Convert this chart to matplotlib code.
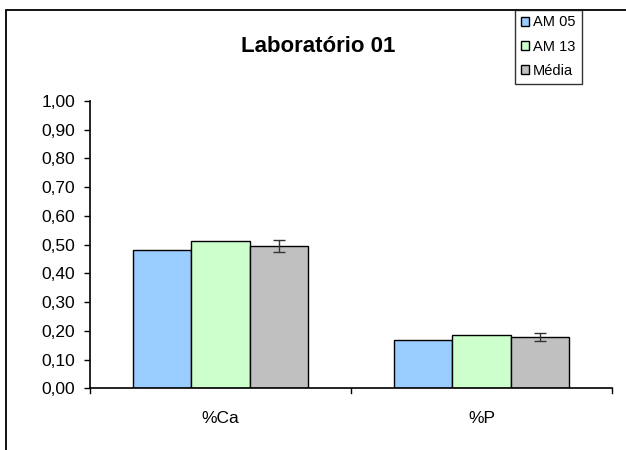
import matplotlib
matplotlib.use("Agg")
import matplotlib.pyplot as plt
import numpy as np
from matplotlib.patches import Rectangle

plt.rcParams['font.family'] = ['Liberation Sans', 'DejaVu Sans']

categories = ["%Ca", "%P"]
series_names = ["AM 05", "AM 13", "Média"]
am05 = [0.482, 0.168]
am13 = [0.512, 0.187]
media = [0.495, 0.179]
media_err = [0.020, 0.013]
colors = ["#99CCFF", "#CCFFCC", "#C0C0C0"]
yticks = [0.0, 0.1, 0.2, 0.3, 0.4, 0.5, 0.6, 0.7, 0.8, 0.9, 1.0]
ytick_labels = ["0,00", "0,10", "0,20", "0,30", "0,40", "0,50", "0,60", "0,70", "0,80", "0,90", "1,00"]

W, H = 626, 450
fig = plt.figure(figsize=(W / 100, H / 100), dpi=100)
ax = fig.add_axes([90 / W, 1 - 388.3 / H, (612 - 90) / W, (388.3 - 101) / H])

x = np.arange(len(categories))
bw = 0.224
vals = [am05, am13, media]
for i, (v, c, n) in enumerate(zip(vals, colors, series_names)):
    pos = x + (i - 1) * bw
    ax.bar(pos, v, bw, color=c, edgecolor="black", linewidth=1.0, label=n, zorder=2)
ax.errorbar(x + bw, media, yerr=media_err, fmt="none", ecolor="#333333",
            elinewidth=1.0, capsize=4, capthick=1.0, zorder=3)

ax.set_xlim(-0.5, 1.5)
ax.set_ylim(0, 1.0)
ax.set_yticks(yticks)
ax.set_yticklabels(ytick_labels, fontsize=12.5)
ax.set_xticks(x)
ax.set_xticklabels(categories, fontsize=12.5)
ax.tick_params(axis='x', length=0, pad=16)
ax.tick_params(axis='y', direction='out', length=4.5, width=1, pad=6)
for t in [-0.5, 0.5, 1.5]:
    ax.plot([t, t], [0, -0.015], color="black", lw=1, clip_on=False)
ax.spines['top'].set_visible(False)
ax.spines['right'].set_visible(False)
ax.spines['left'].set_linewidth(1.2)
ax.spines['bottom'].set_linewidth(1.2)

fig.text(318 / W, 1 - 46 / H, "Laboratório 01", ha="center", va="center",
         fontsize=16, fontweight="bold")

# figure border
fig.patches.append(Rectangle((6 / W, -0.1), 1.2, 1 - 10 / H + 0.1, transform=fig.transFigure,
                             fill=False, edgecolor="black", linewidth=1.3, zorder=0))

leg = fig.legend(loc="upper left", bbox_to_anchor=(515 / W, 1 - 9.5 / H),
                 fontsize=10.5, frameon=True, fancybox=False, edgecolor="black",
                 handlelength=0.55, handleheight=0.55, handletextpad=0.3,
                 borderpad=0.4, labelspacing=0.7, borderaxespad=0)
leg.get_frame().set_linewidth(1.0)

fig.savefig("out.png", dpi=100)
